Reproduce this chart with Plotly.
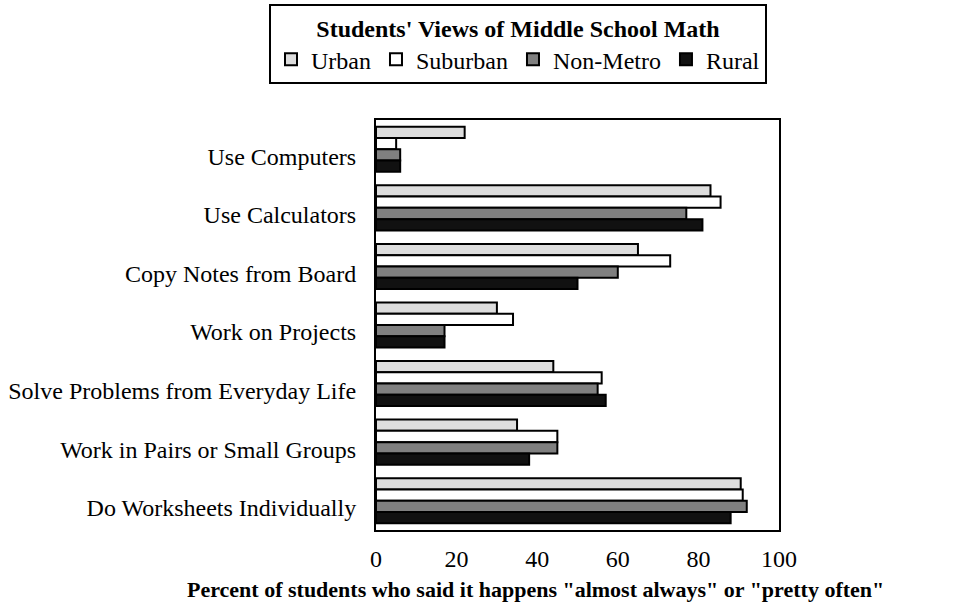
import plotly.graph_objects as go

categories = ["Use Computers", "Use Calculators", "Copy Notes from Board", "Work on Projects",
              "Solve Problems from Everyday Life", "Work in Pairs or Small Groups",
              "Do Worksheets Individually"]
series_names = ["Urban", "Suburban", "Non-Metro", "Rural"]
urban = [22, 83, 65, 30, 44, 35, 90.5]
suburban = [5, 85.5, 73, 34, 56, 45, 91]
non_metro = [6, 77, 60, 17, 55, 45, 92]
rural = [6, 81, 50, 17, 57, 38, 88]
colors = ["#DDDDDD", "#FFFFFF", "#808080", "#111111"]

FONT = "Liberation Serif"
L, R, T, B = 376, 779, 120, 530
W, H = 966, 606
PW, PH = R - L, B - T

fig = go.Figure()
for name, vals, col in zip(series_names, [urban, suburban, non_metro, rural], colors):
    fig.add_trace(go.Bar(
        y=categories, x=vals, name=name, orientation="h",
        marker=dict(color=col, line=dict(color="black", width=2)),
    ))

fig.update_layout(
    width=W, height=H,
    paper_bgcolor="white", plot_bgcolor="white",
    font=dict(family=FONT, size=24, color="black"),
    barmode="group", bargap=0.23, bargroupgap=0,
    margin=dict(l=L, r=W - R, t=T, b=H - B, autoexpand=False),
    showlegend=True,
    legend=dict(
        orientation="h",
        xref="paper", yref="paper",
        x=(269 - L) / PW, xanchor="left",
        y=1 + (T - 4) / PH, yanchor="top",
        bordercolor="black", borderwidth=2, bgcolor="white",
        font=dict(family=FONT, size=24),
        title=dict(text="<b>Students' Views of Middle School Math</b>", side="top center",
                   font=dict(family=FONT, size=24)),
        traceorder="normal",
        itemclick=False,
        tracegroupgap=0,
    ),
    xaxis=dict(
        range=[0, 100], tickvals=[0, 20, 40, 60, 80, 100],
        showgrid=False, zeroline=False,
        showline=True, linecolor="black", linewidth=2, mirror=True,
        ticks="", ticklabelstandoff=6, tickfont=dict(family=FONT, size=24),
    ),
    yaxis=dict(
        autorange="reversed", showgrid=False, zeroline=False,
        showline=True, linecolor="black", linewidth=2, mirror=True,
        ticks="", ticklabelstandoff=13, ticklabelshift=-7,
        tickfont=dict(family=FONT, size=24),
    ),
    annotations=[dict(
        text='<b>Percent of students who said it happens "almost always" or "pretty often"</b>',
        xref="paper", yref="paper",
        x=(535 - L) / PW, y=-(589 - B) / PH,
        xanchor="center", yanchor="middle", showarrow=False,
        font=dict(family=FONT, size=22),
    )],
)

fig.write_html("out.html", config={"displayModeBar": False},
               post_script="document.body.style.margin='0';")
